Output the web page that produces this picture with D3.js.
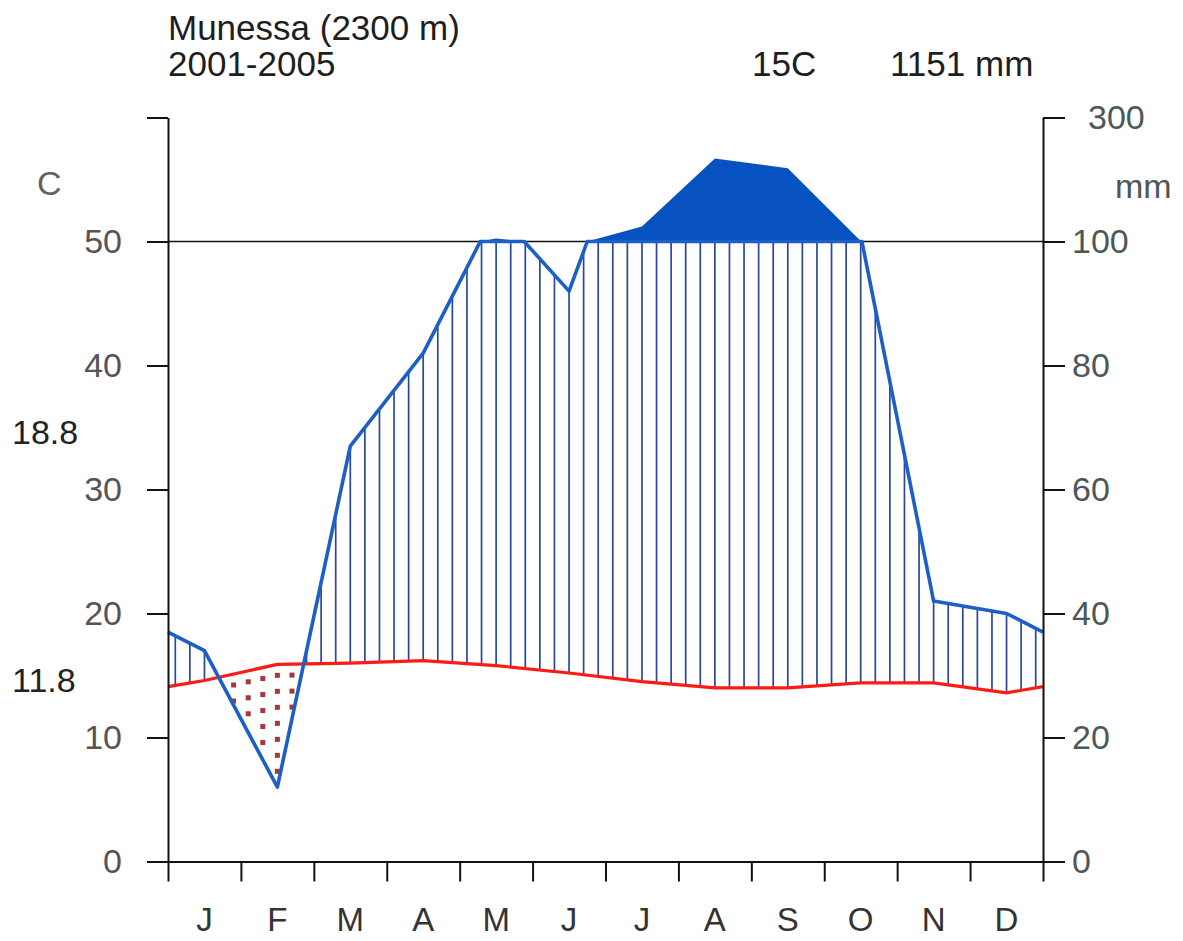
<!DOCTYPE html>
<html>
<head>
<meta charset="utf-8">
<script src="https://cdn.jsdelivr.net/npm/d3@7"></script>
<style>
  body { margin: 0; background: #fff; }
  svg { display: block; }
  text { font-family: "Liberation Sans", Arial, sans-serif; }
</style>
</head>
<body>
<svg id="chart" width="1183" height="941"></svg>
<script>
// Monthly climate normals, Munessa station
const months = ["J", "F", "M", "A", "M", "J", "J", "A", "S", "O", "N", "D"];
const temperature = [14.6, 15.9, 16.0, 16.2, 15.8, 15.2, 14.5, 14.0, 14.0, 14.4, 14.4, 13.6]; // C
const precipitation = [34, 12, 67, 82, 105, 92, 124, 234, 218, 101, 42, 40];            // mm
const tempTicks = [0, 10, 20, 30, 40, 50, 60];
const precTicks = [0, 20, 40, 60, 80, 100, 300];
const station = "Munessa (2300 m)";
const period = "2001-2005";
const meanTempLabel = "15C";
const totalPrecLabel = "1151 mm";
const maxWarmLabel = "18.8";
const minColdLabel = "11.8";

const svg = d3.select("#chart");
const plotLeft = 168, plotRight = 1043, plotTop = 117.5, plotBottom = 861.5;

const x = d3.scaleLinear().domain([0, 12]).range([plotLeft, plotRight]);
const yT = d3.scaleLinear().domain([0, 60]).range([plotBottom, plotTop]);
// precipitation: 2 mm per degree up to 100 mm, then compressed 20 mm per degree
const yPcomp = d3.scaleLinear().domain([0, 100, 300]).range([yT(0), yT(50), yT(60)]);
const yPlin = d3.scaleLinear().domain([0, 100]).range([yT(0), yT(50)]);

// series placed at month centres, wrapped at both ends with the Dec/Jan mean
const xs = [0, ...months.map((m, i) => i + 0.5), 12];
const wrapT = (temperature[11] + temperature[0]) / 2;
const wrapP = (precipitation[11] + precipitation[0]) / 2;
const tExt = [wrapT, ...temperature, wrapT];
const pExt = [wrapP, ...precipitation, wrapP];

function interp(arr, v) {
  for (let i = 0; i < xs.length - 1; i++) {
    if (v >= xs[i] && v <= xs[i + 1]) {
      const t = (v - xs[i]) / (xs[i + 1] - xs[i]);
      return arr[i] + t * (arr[i + 1] - arr[i]);
    }
  }
  return arr[arr.length - 1];
}

// precipitation polyline with the 100 mm crossings inserted
const pPts = [];
for (let i = 0; i < xs.length; i++) {
  pPts.push([xs[i], pExt[i]]);
  if (i < xs.length - 1 && (pExt[i] - 100) * (pExt[i + 1] - 100) < 0) {
    const t = (100 - pExt[i]) / (pExt[i + 1] - pExt[i]);
    pPts.push([xs[i] + t * (xs[i + 1] - xs[i]), 100]);
  }
}

const gMarks = svg.append("g");

// humid (vertical hatch) and arid (dotted) periods, five strokes per month
const nHatch = 60;
for (let k = 0; k < nHatch; k++) {
  const xm = (k + 0.5) * 12 / nHatch;
  const t = interp(tExt, xm);
  const p = interp(pExt, xm);
  const yTemp = yT(t);
  const yPrec = yPlin(Math.min(p, 100));
  if (p / 2 > t) {
    gMarks.append("line")
      .attr("x1", x(xm)).attr("x2", x(xm))
      .attr("y1", yTemp).attr("y2", yPrec)
      .attr("stroke", "#2947a0").attr("stroke-width", 1.7);
  } else {
    for (let yy = yTemp + 11; yy < yPrec - 3; yy += 16) {
      gMarks.append("rect")
        .attr("x", x(xm) - 2.5).attr("y", yy - 2.5)
        .attr("width", 5).attr("height", 5)
        .attr("fill", "#a3383c");
    }
  }
}

// months above 100 mm, compressed scale
gMarks.append("path")
  .datum(pPts)
  .attr("d", d3.area()
    .x(d => x(d[0]))
    .y0(yT(50))
    .y1(d => yPcomp(Math.max(d[1], 100))))
  .attr("fill", "#0752c0");

// 100 mm reference line
svg.append("line")
  .attr("x1", plotLeft).attr("x2", plotRight)
  .attr("y1", yT(50)).attr("y2", yT(50))
  .attr("stroke", "#111").attr("stroke-width", 1.6);

// temperature curve
svg.append("path")
  .datum(xs.map((v, i) => [v, tExt[i]]))
  .attr("d", d3.line().x(d => x(d[0])).y(d => yT(d[1])))
  .attr("fill", "none").attr("stroke", "#ff1a14").attr("stroke-width", 3.2);

// precipitation curve, cut at 100 mm
svg.append("path")
  .datum(pPts)
  .attr("d", d3.line().x(d => x(d[0])).y(d => yPlin(Math.min(d[1], 100))))
  .attr("fill", "none").attr("stroke", "#1c5fc6").attr("stroke-width", 3.6)
  .attr("stroke-linejoin", "round");

// axes
const axisStyle = g => {
  g.selectAll("path, line").attr("stroke", "#111").attr("stroke-width", 2);
  g.selectAll("text").attr("font-size", 34).attr("font-family", '"Liberation Sans", Arial, sans-serif');
};

svg.append("g")
  .attr("transform", `translate(${plotLeft},0)`)
  .call(d3.axisLeft(yT).tickValues(tempTicks).tickSize(21).tickSizeOuter(0).tickPadding(25)
    .tickFormat(d => d === 60 ? "" : d))
  .call(axisStyle)
  .call(g => g.selectAll("text").attr("fill", "#5a5254"));

const rightAxis = svg.append("g")
  .attr("transform", `translate(${plotRight},0)`)
  .call(d3.axisRight(yPcomp).tickValues(precTicks).tickSize(22).tickSizeOuter(0).tickPadding(7))
  .call(axisStyle)
  .call(g => g.selectAll("text").attr("fill", "#4c5757"));
rightAxis.selectAll(".tick").filter(d => d === 300).select("text").attr("x", 45);

svg.append("g")
  .attr("transform", `translate(0,${plotBottom})`)
  .call(d3.axisBottom(x).tickValues(d3.range(0, 13)).tickSize(20).tickSizeOuter(0).tickFormat(""))
  .call(axisStyle);

// month labels
svg.append("g").selectAll("text")
  .data(months)
  .join("text")
  .attr("x", (d, i) => x(i + 0.5))
  .attr("y", 931)
  .attr("text-anchor", "middle")
  .attr("font-size", 33)
  .attr("fill", "#333")
  .text(d => d);

// headers and annotations
const txt = (s, xx, yy, opts = {}) => svg.append("text")
  .attr("x", xx).attr("y", yy)
  .attr("font-size", opts.size || 34)
  .attr("fill", opts.fill || "#1e1e1e")
  .attr("text-anchor", opts.anchor || "start")
  .attr("dominant-baseline", opts.baseline || "auto")
  .text(s);

txt(station, plotLeft, 40, { size: 35 });
txt(period, plotLeft, 76, { size: 35 });
txt(meanTempLabel, 752, 76, { size: 35 });
txt(totalPrecLabel, 890, 76, { size: 35 });
txt("C", 37, 183, { fill: "#6b5c60", baseline: "central" });
txt("mm", 1115, 186, { fill: "#4c5757", baseline: "central" });
txt(maxWarmLabel, 12, 432, { fill: "#222", baseline: "central" });
txt(minColdLabel, 12, 680, { fill: "#222", baseline: "central" });
</script>
</body>
</html>
